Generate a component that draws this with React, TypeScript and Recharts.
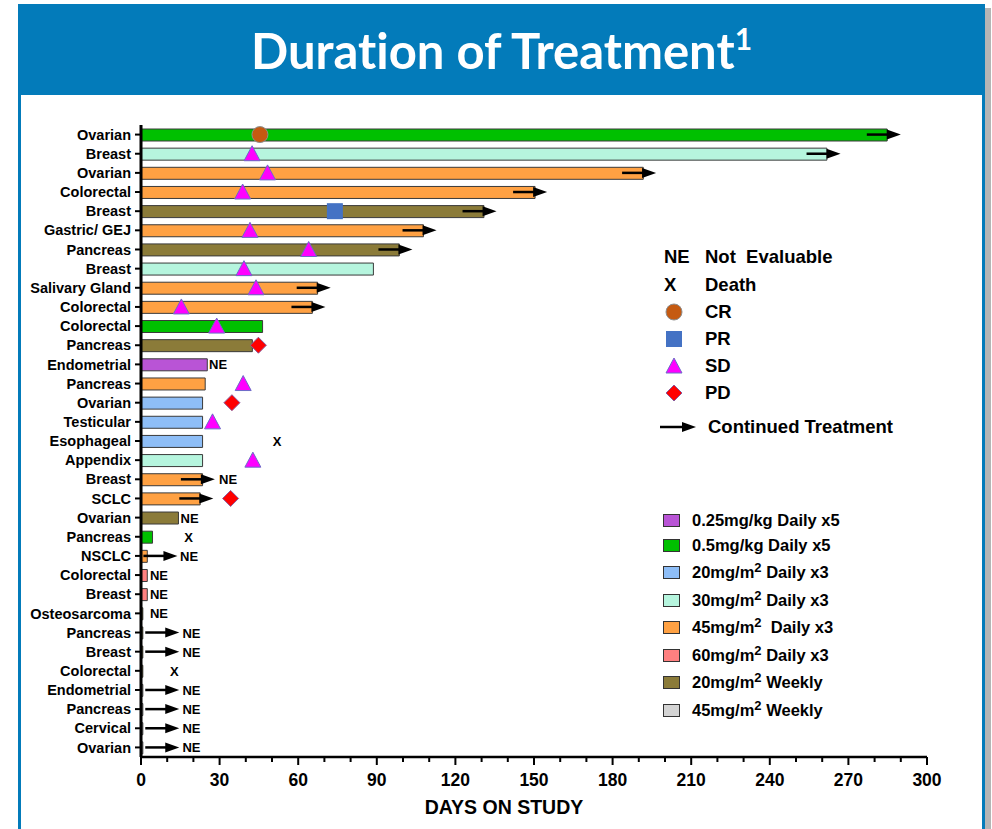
import React from "react";
import { ComposedChart, Bar, Line, XAxis, YAxis, Cell } from "recharts";

// one entry per patient row, top to bottom
const patients = [
  "Ovarian", "Breast", "Ovarian", "Colorectal", "Breast", "Gastric/ GEJ", "Pancreas", "Breast",
  "Salivary Gland", "Colorectal", "Colorectal", "Pancreas", "Endometrial", "Pancreas", "Ovarian",
  "Testicular", "Esophageal", "Appendix", "Breast", "SCLC", "Ovarian", "Pancreas", "NSCLC",
  "Colorectal", "Breast", "Osteosarcoma", "Pancreas", "Breast", "Colorectal", "Endometrial",
  "Pancreas", "Cervical", "Ovarian",
];

const regimens = [
  "0.5kg", "30d", "45d", "45d", "20w", "45d", "20w", "30d", "45d", "45d", "0.5kg", "20w",
  "0.25kg", "45d", "20d", "20d", "20d", "30d", "45d", "45d", "20w", "0.5kg", "45d", "60d",
  "60d", "20w", "20w", "20w", "20w", "45w", "45w", "45w", "45w",
];

const daysOnStudy = [
  284.8, 261.8, 191.7, 150.4, 130.9, 107.8, 98.6, 88.7, 67.4, 65.4, 46.4, 42.5, 25.3, 24.5,
  23.5, 23.5, 23.5, 23.5, 23.5, 22.6, 14.3, 4.4, 2.4, 2.4, 2.4, 0.7, 0.7, 0.7, 0.7, 0.7, 0.7,
  0.7, 0.7,
];

const responseType = [
  "CR", "SD", "SD", "SD", "PR", "SD", "SD", "SD", "SD", "SD", "SD", "PD", null, "SD", "PD",
  "SD", null, "SD", null, "PD", null, null, null, null, null, null, null, null, null, null,
  null, null, null,
];

const responseDay = [
  45.4, 42.4, 48.3, 38.8, 74, 41.6, 64, 39.3, 43.9, 15.4, 28.9, 44.8, null, 39, 34.7, 27.3,
  null, 42.7, null, 34.2, null, null, null, null, null, null, null, null, null, null, null,
  null, null,
];

// day where the "continued treatment" arrow head ends
const arrowTip = [
  290, 267, 196.6, 155, 135.7, 112.8, 103.6, null, 72.4, 70.4, null, null, null, null, null,
  null, null, null, 28.2, 27.6, null, null, 13.9, null, null, null, 14.6, 14.6, null, 14.6,
  14.6, 14.6, 14.6,
];

const noteText = [
  null, null, null, null, null, null, null, null, null, null, null, null, "NE", null, null,
  null, "X", null, "NE", null, "NE", "X", "NE", "NE", "NE", "NE", "NE", "NE", "X", "NE", "NE",
  "NE", "NE",
];

const noteDay = [
  null, null, null, null, null, null, null, null, null, null, null, null, 26, null, null,
  null, 51.9, null, 29.8, null, 15.1, 18.2, 14.9, 3.4, 3.4, 3.4, 15.8, 15.8, 12.7, 15.8, 15.8,
  15.8, 15.8,
];

const xTicks = [
  0, 10, 20, 30, 40, 50, 60, 70, 80, 90, 100, 110, 120, 130, 140, 150, 160, 170, 180, 190, 200,
  210, 220, 230, 240, 250, 260, 270, 280, 290, 300,
];

const regimenColors: Record<string, string> = {
  "0.25kg": "#B954D6",
  "0.5kg": "#00C000",
  "20d": "#8EBEF7",
  "30d": "#B6F5DE",
  "45d": "#FFA143",
  "60d": "#FF8080",
  "20w": "#8B7B39",
  "45w": "#D4D4D4",
};

const regimenLegend = [
  { key: "0.25kg", pre: "0.25mg/kg Daily x5", sup: "", post: "" },
  { key: "0.5kg", pre: "0.5mg/kg Daily x5", sup: "", post: "" },
  { key: "20d", pre: "20mg/m", sup: "2", post: " Daily x3" },
  { key: "30d", pre: "30mg/m", sup: "2", post: " Daily x3" },
  { key: "45d", pre: "45mg/m", sup: "2", post: "\u00a0 Daily x3" },
  { key: "60d", pre: "60mg/m", sup: "2", post: " Daily x3" },
  { key: "20w", pre: "20mg/m", sup: "2", post: " Weekly" },
  { key: "45w", pre: "45mg/m", sup: "2", post: " Weekly" },
];

const rows = patients.map((name, i) => ({
  name,
  regimen: regimens[i],
  days: daysOnStudy[i],
  respType: responseType[i],
  resp: responseDay[i],
  arrow: arrowTip[i],
  note: noteText[i],
  noteAt: noteDay[i],
}));

const FONT = "'Liberation Sans', Arial, sans-serif";
const NARROW = "'Liberation Sans Narrow', 'Liberation Sans', Arial, sans-serif";

function Marker({ type, cx, cy }: { type: string; cx: number; cy: number }) {
  if (type === "CR") return <circle cx={cx} cy={cy} r={8} fill="#C55A11" stroke="#8E8E8E" strokeWidth={1} />;
  if (type === "PR") return <rect x={cx - 8} y={cy - 8} width={16} height={16} fill="#4472C4" />;
  if (type === "SD")
    return (
      <polygon
        points={`${cx},${cy - 8} ${cx + 8},${cy + 7} ${cx - 8},${cy + 7}`}
        fill="#FF00FF"
        stroke="#6C6CC8"
        strokeWidth={1}
      />
    );
  return (
    <polygon
      points={`${cx},${cy - 8} ${cx + 8},${cy} ${cx},${cy + 8} ${cx - 8},${cy}`}
      fill="#FF0000"
      stroke="#8A5A9A"
      strokeWidth={1}
    />
  );
}

function Arrow({ cx, cy }: { cx: number; cy: number }) {
  return (
    <g>
      <line x1={cx - 34} y1={cy} x2={cx - 12} y2={cy} stroke="#000" strokeWidth={2.5} />
      <polygon points={`${cx - 14},${cy - 5} ${cx},${cy} ${cx - 14},${cy + 5}`} fill="#000" />
    </g>
  );
}

const renderResp = (p: any) => {
  if (p.cx == null || p.payload.resp == null) return <g key={`r${p.index}`} />;
  return (
    <g key={`r${p.index}`}>
      <Marker type={p.payload.respType} cx={p.cx} cy={p.cy} />
    </g>
  );
};

const renderArrow = (p: any) => {
  if (p.cx == null || p.payload.arrow == null) return <g key={`a${p.index}`} />;
  return (
    <g key={`a${p.index}`}>
      <Arrow cx={p.cx} cy={p.cy} />
    </g>
  );
};

const renderNote = (p: any) => {
  if (p.cx == null || p.payload.noteAt == null) return <g key={`n${p.index}`} />;
  const isX = p.payload.note === "X";
  return (
    <text
      key={`n${p.index}`}
      x={p.cx}
      y={p.cy + 5}
      textAnchor={isX ? "middle" : "start"}
      fontFamily={FONT}
      fontWeight="bold"
      fontSize={13}
      fill="#000"
    >
      {p.payload.note}
    </text>
  );
};

const XTick = (props: any) => {
  const { x, y, payload } = props;
  const major = payload.value % 30 === 0;
  return (
    <g>
      <line x1={x} y1={y} x2={x} y2={y + (major ? 8 : 5)} stroke="#000" strokeWidth={2} />
      {major && (
        <text x={x} y={y + 29} textAnchor="middle" fontFamily={NARROW} fontWeight="bold" fontSize={17.5} fill="#000">
          {payload.value}
        </text>
      )}
    </g>
  );
};

const XLabel = (props: any) => {
  const vb = props.viewBox || {};
  return (
    <text
      x={vb.x + vb.width / 2 - 30}
      y={vb.y + 57}
      textAnchor="middle"
      fontFamily={NARROW}
      fontWeight="bold"
      fontSize={19.5}
      fill="#000"
    >
      DAYS ON STUDY
    </text>
  );
};

export default function App() {
  return (
    <div style={{ position: "absolute", left: 0, top: 0, width: 992, height: 829, background: "#fff", overflow: "hidden" }}>
      {/* panel frame */}
      <div style={{ position: "absolute", left: 18, top: 4, width: 3, height: 829, background: "#037BBA" }} />
      <div style={{ position: "absolute", left: 982, top: 4, width: 3, height: 829, background: "#037BBA" }} />
      <div style={{ position: "absolute", left: 985, top: 8, width: 6, height: 829, background: "#B5B5B5" }} />

      <ComposedChart
        layout="vertical"
        width={992}
        height={829}
        data={rows}
        margin={{ top: 125, right: 65, left: 31, bottom: 10 }}
        style={{ position: "absolute", left: 0, top: 0 }}
      >
        <XAxis
          type="number"
          domain={[0, 300]}
          ticks={xTicks}
          interval={0}
          height={62}
          tickSize={0}
          tickMargin={0}
          tickLine={false}
          tick={<XTick />}
          axisLine={{ stroke: "#000", strokeWidth: 2.5 }}
          label={<XLabel />}
        />
        <YAxis
          type="category"
          dataKey="name"
          width={110}
          interval={0}
          tickSize={6}
          tickMargin={4}
          axisLine={{ stroke: "#000", strokeWidth: 3 }}
          tickLine={{ stroke: "#000", strokeWidth: 2 }}
          tick={{ fill: "#000", fontSize: 14.5, fontWeight: "bold", fontFamily: FONT }}
        />
        <Bar dataKey="days" barSize={12} isAnimationActive={false} stroke="#3A3A3A" strokeWidth={1}>
          {rows.map((r, i) => (
            <Cell key={i} fill={regimenColors[r.regimen]} />
          ))}
        </Bar>
        <Line dataKey="arrow" stroke="none" dot={renderArrow} activeDot={false} isAnimationActive={false} legendType="none" />
        <Line dataKey="resp" stroke="none" dot={renderResp} activeDot={false} isAnimationActive={false} legendType="none" />
        <Line dataKey="noteAt" stroke="none" dot={renderNote} activeDot={false} isAnimationActive={false} legendType="none" />
      </ComposedChart>

      {/* title banner */}
      <div
        style={{
          position: "absolute",
          left: 18,
          top: 4,
          width: 967,
          height: 91,
          background: "#037BBA",
          color: "#fff",
          fontFamily: "Lato, 'Open Sans', sans-serif",
          fontWeight: "bold",
          fontSize: 49,
          fontVariantLigatures: "none",
          lineHeight: "93px",
          textAlign: "center",
        }}
      >
        Duration of Treatment<sup style={{ fontSize: 30, verticalAlign: "19px", lineHeight: 0 }}>1</sup>
      </div>

      {/* response legend */}
      <div style={{ position: "absolute", left: 0, top: 0, fontFamily: FONT, fontWeight: "bold", fontSize: 18.5, color: "#000" }}>
        {[
          { y: 257, sym: "NE", label: "Not\u00a0 Evaluable" },
          { y: 285, sym: "X", label: "Death" },
          { y: 312, sym: "CR", label: "CR" },
          { y: 339, sym: "PR", label: "PR" },
          { y: 366, sym: "SD", label: "SD" },
          { y: 393, sym: "PD", label: "PD" },
        ].map((it) => (
          <div key={it.label} style={{ position: "absolute", left: 0, top: it.y - 11, height: 22, width: 900 }}>
            {it.sym === "NE" || it.sym === "X" ? (
              <span style={{ position: "absolute", left: 664, top: 0, lineHeight: "22px" }}>{it.sym}</span>
            ) : (
              <svg style={{ position: "absolute", left: 664, top: 1 }} width={20} height={20}>
                <Marker type={it.sym} cx={10} cy={10} />
              </svg>
            )}
            <span style={{ position: "absolute", left: 705, top: 0, lineHeight: "22px", whiteSpace: "nowrap" }}>{it.label}</span>
          </div>
        ))}
        <svg style={{ position: "absolute", left: 658, top: 417 }} width={40} height={20}>
          <line x1={2} y1={10} x2={26} y2={10} stroke="#000" strokeWidth={2.5} />
          <polygon points="24,5 38,10 24,15" fill="#000" />
        </svg>
        <span style={{ position: "absolute", left: 708, top: 416, lineHeight: "22px", whiteSpace: "nowrap" }}>Continued Treatment</span>
      </div>

      {/* regimen legend */}
      <div style={{ position: "absolute", left: 0, top: 0, fontFamily: FONT, fontWeight: "bold", fontSize: 16.5, color: "#000" }}>
        {regimenLegend.map((it, i) => {
          const cy = [520, 545, 572, 600, 627, 655, 682, 710][i];
          return (
            <div key={it.key} style={{ position: "absolute", left: 0, top: cy - 11, height: 22, width: 900 }}>
              <div
                style={{
                  position: "absolute",
                  left: 663,
                  top: 5,
                  width: 15,
                  height: 11,
                  background: regimenColors[it.key],
                  border: "1px solid #333",
                }}
              />
              <span style={{ position: "absolute", left: 692, top: 0, lineHeight: "22px", whiteSpace: "pre" }}>
                {it.pre}
                {it.sup && <sup style={{ fontSize: 13, lineHeight: 0 }}>{it.sup}</sup>}
                {it.post}
              </span>
            </div>
          );
        })}
      </div>
    </div>
  );
}
